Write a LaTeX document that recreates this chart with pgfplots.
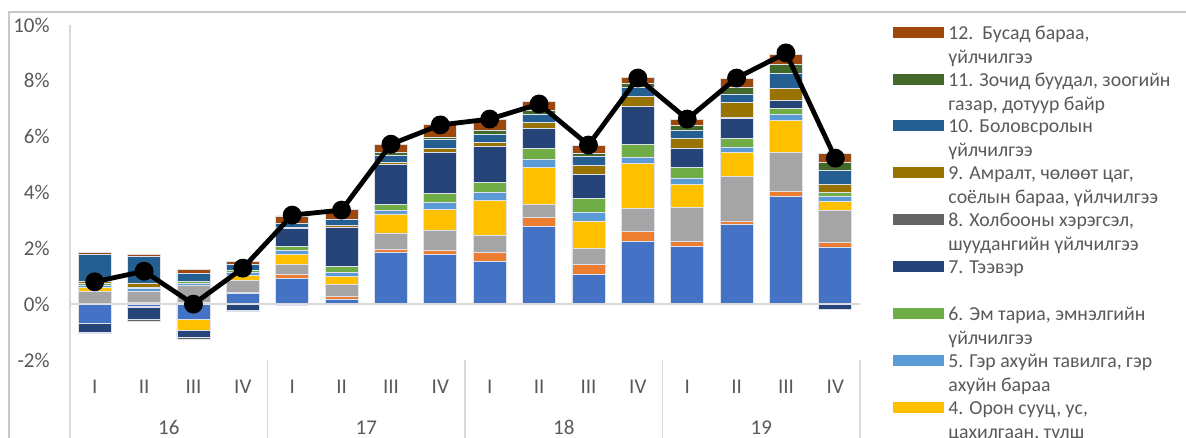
\documentclass[border=0pt]{standalone}
\usepackage{pgfplots}
\pgfplotsset{compat=1.18}
\usepackage{pgfplotstable}
\usepackage{fontspec}
\setmainfont{Carlito}

\definecolor{c1}{HTML}{4472C4}
\definecolor{c2}{HTML}{ED7D31}
\definecolor{c3}{HTML}{A5A5A5}
\definecolor{c4}{HTML}{FFC000}
\definecolor{c5}{HTML}{5B9BD5}
\definecolor{c6}{HTML}{70AD47}
\definecolor{c7}{HTML}{264478}
\definecolor{c8}{HTML}{636363}
\definecolor{c9}{HTML}{997300}
\definecolor{c10}{HTML}{255E91}
\definecolor{c11}{HTML}{43682B}
\definecolor{c12}{HTML}{9E480E}
\definecolor{txt}{HTML}{595959}
\definecolor{axgray}{HTML}{D9D9D9}
\definecolor{bordergray}{HTML}{C8C8C8}
\definecolor{barline}{HTML}{DCE1EB}

\pgfplotstableread{
x  s1   s2   s3   s4   s5   s6   s7   s8   s9   s10  s11  s12
0  0    0.03 0.42 0.14 0.10 0.05 0    0.02 0.07 0.95 0.02 0.05
1  0    0.05 0.42 0    0.08 0.06 0    0    0.15 0.95 0    0.06
2  0    0.05 0.63 0    0.07 0.07 0    0    0    0.29 0    0.12
3  0.37 0.05 0.42 0.18 0.10 0.08 0    0    0    0.24 0    0.10
4  0.93 0.13 0.37 0.36 0.14 0.13 0.65 0.01 0.02 0.16 0    0.26
5  0.17 0.12 0.42 0.29 0.14 0.20 1.41 0    0.06 0.21 0    0.36
6  1.85 0.10 0.60 0.68 0.13 0.20 1.43 0    0.08 0.27 0.10 0.29
7  1.77 0.16 0.73 0.72 0.25 0.35 1.47 0    0.14 0.30 0.10 0.45
8  1.52 0.33 0.62 1.23 0.29 0.38 1.29 0    0.12 0.29 0.17 0.39
9  2.77 0.35 0.44 1.35 0.27 0.41 0.72 0    0.19 0.31 0.14 0.30
10 1.06 0.37 0.56 0.99 0.30 0.51 0.87 0    0.31 0.32 0.12 0.29
11 2.25 0.35 0.84 1.59 0.24 0.44 1.38 0    0.35 0.31 0.14 0.22
12 2.07 0.19 1.19 0.85 0.22 0.37 0.70 0    0.33 0.31 0.18 0.21
13 2.84 0.14 1.59 0.86 0.20 0.31 0.70 0.04 0.53 0.31 0.24 0.32
14 3.86 0.17 1.42 1.12 0.23 0.20 0.31 0    0.42 0.54 0.33 0.33
15 2.05 0.16 1.15 0.32 0.19 0.14 0    0    0.29 0.50 0.27 0.32
}\postab

\pgfplotstableread{
x  n1    n4    n7    n8
0  -0.68 0     -0.33 -0.04
1  -0.08 -0.05 -0.42 -0.05
2  -0.55 -0.38 -0.26 -0.07
3  0     0     -0.22 -0.05
4  0     0     0     -0.03
15 0     0     -0.18 0
}\negtab

\pgfplotstableread{
x  y
0  0.80
1  1.18
2  0.00
3  1.29
4  3.19
5  3.37
6  5.73
7  6.42
8  6.63
9  7.17
10 5.70
11 8.10
12 6.63
13 8.10
14 9.00
15 5.23
}\linetab

\pgfplotsset{
  base/.style={scale only axis, width=395pt, height=167.5pt,
    at={(35pt,39pt)}, anchor=south west,
    xmin=-0.5, xmax=15.5, ymin=-2, ymax=10,
    axis line style={draw=none}, clip=false, major tick length=0pt,
    xtick=\empty, ytick=\empty},
  barst/.style={ybar stacked, bar width=16.5pt},
}
\tikzset{bs/.style={fill=#1, draw=barline, line width=0.4pt},
  yr/.style={anchor=base, inner sep=0pt, font=\fontsize{10.5}{12}\selectfont, text=txt, yshift=-37.3pt},
  lg/.style={anchor=base west, inner sep=0pt, font=\fontsize{9.9}{11}\selectfont, text=txt}}

\begin{document}
\begin{tikzpicture}
% positive stack
\begin{axis}[base, barst]
\draw[axgray, line width=0.75pt] (axis cs:-0.5,0) -- (axis cs:15.5,0);
\addplot[bs=c1]  table[x=x,y=s1]  {\postab};
\addplot[bs=c2]  table[x=x,y=s2]  {\postab};
\addplot[bs=c3]  table[x=x,y=s3]  {\postab};
\addplot[bs=c4]  table[x=x,y=s4]  {\postab};
\addplot[bs=c5]  table[x=x,y=s5]  {\postab};
\addplot[bs=c6]  table[x=x,y=s6]  {\postab};
\addplot[bs=c7]  table[x=x,y=s7]  {\postab};
\addplot[bs=c8]  table[x=x,y=s8]  {\postab};
\addplot[bs=c9]  table[x=x,y=s9]  {\postab};
\addplot[bs=c10] table[x=x,y=s10] {\postab};
\addplot[bs=c11] table[x=x,y=s11] {\postab};
\addplot[bs=c12] table[x=x,y=s12] {\postab};
\end{axis}
% negative stack
\begin{axis}[base, barst]
\addplot[bs=c1] table[x=x,y=n1] {\negtab};
\addplot[bs=c4] table[x=x,y=n4] {\negtab};
\addplot[bs=c7] table[x=x,y=n7] {\negtab};
\addplot[bs=c8] table[x=x,y=n8] {\negtab};
\end{axis}
% line, ticks, labels
\begin{axis}[base,
  ytick={-2,0,2,4,6,8,10},
  yticklabels={-2\%,0\%,2\%,4\%,6\%,8\%,10\%},
  xtick={0,...,15},
  xticklabels={I,II,III,IV,I,II,III,IV,I,II,III,IV,I,II,III,IV},
  tick label style={font=\fontsize{10.5}{12}\selectfont, text=txt},
  yticklabel style={inner sep=0pt, xshift=-10pt},
  xticklabel style={inner sep=0pt, anchor=base, yshift=-16.7pt},
]
\draw[axgray, line width=1pt] (axis cs:-0.5,10) -- ++(0pt,-230pt);
\draw[axgray, line width=0.8pt] (axis cs:3.5,-2) -- ++(0pt,-60pt);
\draw[axgray, line width=0.8pt] (axis cs:7.5,-2) -- ++(0pt,-60pt);
\draw[axgray, line width=0.8pt] (axis cs:11.5,-2) -- ++(0pt,-60pt);
\draw[axgray, line width=0.8pt] (axis cs:15.5,-2) -- ++(0pt,-60pt);
\node[yr] at (axis cs:1.5,-2) {16};
\node[yr] at (axis cs:5.5,-2) {17};
\node[yr] at (axis cs:9.5,-2) {18};
\node[yr] at (axis cs:13.5,-2) {19};
\addplot[black, line width=2.4pt, mark=*, mark size=3.5pt, mark options={fill=black, draw=black}] table[x=x,y=y] {\linetab};
\end{axis}
% border and legend, in pixel units from top-left
\begin{scope}[x=0.5pt, y=-0.5pt, shift={(0pt,219pt)}]
\draw[bordergray, line width=0.8pt] (9,460) -- (9,12) -- (1200,12);
\foreach \k/\col/\la/\lb in {
  0/c12/{12.\ \ Бусад бараа,}/{үйлчилгээ},
  1/c11/{11. Зочид буудал, зоогийн}/{газар, дотуур байр},
  2/c10/{10. Боловсролын}/{үйлчилгээ},
  3/c9/{9. Амралт, чөлөөт цаг,}/{соёлын бараа, үйлчилгээ},
  4/c8/{8. Холбооны хэрэгсэл,}/{шуудангийн үйлчилгээ},
  5/c7/{7. Тээвэр}/{},
  6/c6/{6. Эм тариа, эмнэлгийн}/{үйлчилгээ},
  7/c5/{5. Гэр ахуйн тавилга, гэр}/{ахуйн бараа},
  8/c4/{4. Орон сууц, ус,}/{цахилгаан, түлш}}{
  \pgfmathsetmacro{\yc}{32.2+46.9*\k}
  \fill[\col] (892.5,\yc-5.5) rectangle (943.5,\yc+5.5);
  \node[lg] at (948,\yc+7) {\la};
  \node[lg] at (948,\yc+31) {\lb};
}
\end{scope}
\pgfresetboundingbox
\useasboundingbox (0,0) rectangle (593pt,219pt);
\end{tikzpicture}
\end{document}
